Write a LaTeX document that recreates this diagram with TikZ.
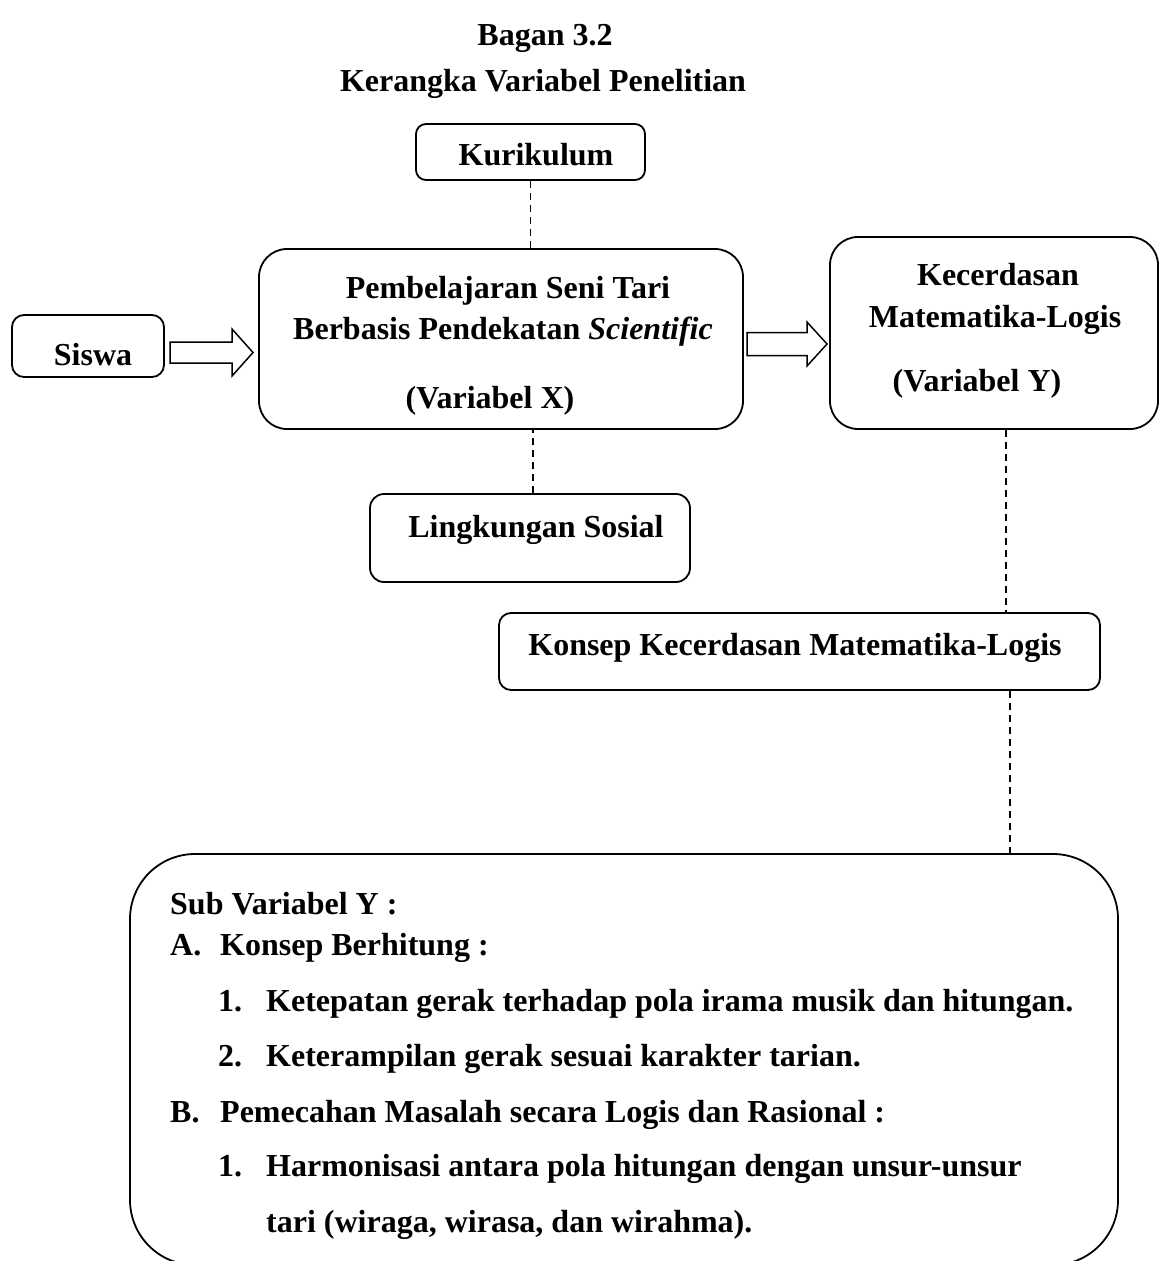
\documentclass[tikz,border=0pt]{standalone}
\usepackage{fontspec}
\setmainfont{Liberation Serif}
\usetikzlibrary{calc}
\begin{document}
\begin{tikzpicture}[x=1pt,y=-1pt,
  box/.style={draw, line width=1.8pt, rounded corners=#1, inner sep=0pt},
  box/.default=12pt,
  lbl/.style={font=\fontsize{32}{38}\selectfont\bfseries, anchor=base, inner sep=0pt},
  lblw/.style={lbl, anchor=base west},
  lnk/.style={line width=1.8pt, dash pattern=on 7pt off 5pt},
  harrow/.style={draw, line width=1.5pt, fill=white, line join=miter}]
\useasboundingbox (0,0) rectangle (1160,1261);
\clip (0,0) rectangle (1160,1261);

% titles
\node[lbl] (t1) at (545,45) {Bagan 3.2};
\node[lbl] (t2) at (543,91) {Kerangka Variabel Penelitian};

% boxes
\node[box=10pt, minimum width=229pt, minimum height=56pt] (kur) at (530.5,152) {};
\node[box=28pt, minimum width=484pt, minimum height=180pt] (pem) at (501,339) {};
\node[box=12pt, minimum width=152pt, minimum height=62pt] (sis) at (88,346) {};
\node[box=28pt, minimum width=328pt, minimum height=192pt] (kec) at (994,333) {};
\node[box=14pt, minimum width=320pt, minimum height=88pt] (lin) at (530,538) {};
\node[box=12pt, minimum width=601pt, minimum height=77pt] (kon) at (799.5,651.5) {};
\node[box=65pt, minimum width=988pt, minimum height=411pt] (sub) at (624,1059.5) {};

% box texts
\node[lbl] (kurT) at (536,165) {Kurikulum};
\node[lbl] (pemT1) at (508,298) {Pembelajaran Seni Tari};
\node[lbl] (pemT2) at (503,339) {Berbasis Pendekatan \textit{Scientific}};
\node[lbl] (pemT3) at (490,408) {(Variabel X)};
\node[lbl] (sisT) at (93,365) {Siswa};
\node[lbl] (kecT1) at (998,285) {Kecerdasan};
\node[lbl] (kecT2) at (995,327) {Matematika-Logis};
\node[lbl] (kecT3) at (977,391) {(Variabel Y)};
\node[lbl] (linT) at (536,537) {Lingkungan Sosial};
\node[lbl] (konT) at (795,655) {Konsep Kecerdasan Matematika-Logis};

\node[lblw] (s0) at (170,914) {Sub Variabel Y :};
\node[lblw] (sA) at (170,955) {A.};
\node[lblw] (sAt) at (220,955) {Konsep Berhitung :};
\node[lblw] (sA1) at (218,1011) {1.};
\node[lblw] (sA1t) at (266,1011) {Ketepatan gerak terhadap pola irama musik dan hitungan.};
\node[lblw] (sA2) at (218,1066) {2.};
\node[lblw] (sA2t) at (266,1066) {Keterampilan gerak sesuai karakter tarian.};
\node[lblw] (sB) at (170,1122) {B.};
\node[lblw] (sBt) at (220,1122) {Pemecahan Masalah secara Logis dan Rasional :};
\node[lblw] (sB1) at (218,1176) {1.};
\node[lblw] (sB1t) at (266,1176) {Harmonisasi antara pola hitungan dengan unsur-unsur};
\node[lblw] (sB1u) at (266,1232) {tari (wiraga, wirasa, dan wirahma).};

% dashed connectors
\draw[lnk] (kur.south) -- (kur.south |- pem.north);
\draw[lnk] ([xshift=3pt]lin.north) -- ([xshift=3pt]lin.north |- pem.south);
\draw[lnk] ([xshift=12pt]kec.south) -- ([xshift=12pt]kec.south |- kon.north);
\draw[lnk] ([xshift=210.5pt]kon.south) -- ([xshift=210.5pt]kon.south |- sub.north);

% hollow arrows
\draw[harrow] (170,342) -- (232,342) -- (232,329) -- (253,352.5) -- (232,376) -- (232,363) -- (170,363) -- cycle;
\draw[harrow] (747,332.5) -- (807,332.5) -- (807,322) -- (827,344) -- (807,366) -- (807,355.5) -- (747,355.5) -- cycle;
\end{tikzpicture}
\end{document}
